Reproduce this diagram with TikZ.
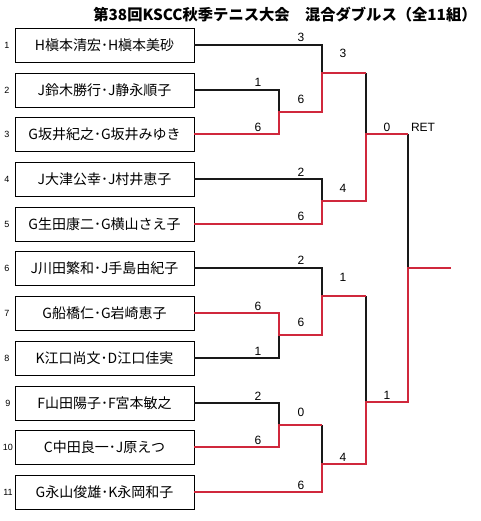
\documentclass[tikz,border=0pt]{standalone}
\usepackage{fontspec}
\setmainfont{Liberation Sans}
\newfontfamily\jp{Noto Sans CJK JP}
\definecolor{winred}{RGB}{208,40,60}

\begin{document}
\begin{tikzpicture}[
  x=1pt, y=-1pt,
  every node/.style={font=\normalsize},
  team/.style={rectangle, draw, line width=0.9pt, minimum width=179pt, minimum height=34pt, inner sep=0pt, font=\jp\fontsize{14}{14}\selectfont},
  num/.style={inner sep=0pt, font=\fontsize{9}{9}\selectfont},
  score/.style={inner sep=0pt, font=\fontsize{12}{12}\selectfont},
  lose/.style={line width=1.4pt, draw=black!90},
  win/.style={line width=1.4pt, draw=winred},
]
  \useasboundingbox (0, 0) rectangle (480, 521);

  % Titre
  \node[font=\jp\bfseries\fontsize{15.3}{16}\selectfont] (title) at (285, 15) {第38回KSCC秋季テニス大会　混合ダブルス（全11組）};

  % Equipes
  \node[team] (team1) at (104.5, 45) {H槇本清宏･H槇本美砂};
  \node[team] (team2) at (104.5, 90) {J鈴木勝行･J静永順子};
  \node[team] (team3) at (104.5, 134) {G坂井紀之･G坂井みゆき};
  \node[team] (team4) at (104.5, 179) {J大津公幸･J村井恵子};
  \node[team] (team5) at (104.5, 224) {G生田康二･G横山さえ子};
  \node[team] (team6) at (104.5, 268) {J川田繁和･J手島由紀子};
  \node[team] (team7) at (104.5, 313) {G船橋仁･G岩崎恵子};
  \node[team] (team8) at (104.5, 358) {K江口尚文･D江口佳実};
  \node[team] (team9) at (104.5, 403) {F山田陽子･F宮本敏之};
  \node[team] (team10) at (104.5, 447) {C中田良一･J原えつ};
  \node[team] (team11) at (104.5, 492) {G永山俊雄･K永岡和子};

  % Numeros
  \node[num] (n1) at (7, 45) {1};
  \node[num] (n2) at (7, 90) {2};
  \node[num] (n3) at (7, 134) {3};
  \node[num] (n4) at (7, 179) {4};
  \node[num] (n5) at (7, 224) {5};
  \node[num] (n6) at (7, 268) {6};
  \node[num] (n7) at (7, 313) {7};
  \node[num] (n8) at (7, 358) {8};
  \node[num] (n9) at (8, 403) {9};
  \node[num] (n10) at (8, 447) {10};
  \node[num] (n11) at (8, 492) {11};

  % Points de jonction
  \coordinate (a23) at (279, 112);
  \coordinate (b13) at (322, 73);
  \coordinate (b45) at (322, 201);
  \coordinate (c15) at (366, 134);
  \coordinate (a78) at (279, 335);
  \coordinate (b68) at (322, 296);
  \coordinate (a910) at (279, 425);
  \coordinate (b911) at (322, 464);
  \coordinate (c611) at (366, 402);
  \coordinate (fin) at (408, 268);
  \coordinate (champ) at (451, 268);

  % Tableau haut
  \draw[lose] (team2.east) -| (a23);
  \draw[lose] (team1.east) -| (b13);
  \draw[lose] (team4.east) -| (b45);
  \draw[lose] (b13 -| c15) -- (c15);
  \draw[lose] (c15 -| fin) -- (fin);
  \draw[win] (team3.east) -| (a23) -| (b13) -- (b13 -| c15);
  \draw[win] (team5.east) -| (b45) -| (c15) -- (c15 -| fin);

  % Tableau bas
  \draw[lose] (team8.east) -| (a78);
  \draw[lose] (team6.east) -| (b68);
  \draw[lose] (team9.east) -| (a910);
  \draw[lose] (a910 -| b911) -- (b911);
  \draw[lose] (b68 -| c611) -- (c611);
  \draw[win] (team7.east) -| (a78) -| (b68) -- (b68 -| c611);
  \draw[win] (team10.east) -| (a910) -- (a910 -| b911);
  \draw[win] (team11.east) -| (b911) -| (c611) -| (fin) -- (champ);

  % Scores
  \node[score] (s1) at (301, 37) {3};
  \node[score] (s2) at (258, 82) {1};
  \node[score] (s3) at (258, 127) {6};
  \node[score] (s4) at (301, 99) {6};
  \node[score] (s5) at (343, 53) {3};
  \node[score] (s6) at (387, 127) {0};
  \node[score] (ret) at (423, 127) {RET};
  \node[score] (s7) at (301, 172) {2};
  \node[score] (s8) at (301, 216) {6};
  \node[score] (s9) at (343, 188) {4};
  \node[score] (s10) at (301, 260) {2};
  \node[score] (s11) at (343, 277) {1};
  \node[score] (s12) at (258, 306) {6};
  \node[score] (s13) at (301, 322) {6};
  \node[score] (s14) at (258, 351) {1};
  \node[score] (s15) at (258, 396) {2};
  \node[score] (s16) at (258, 440) {6};
  \node[score] (s17) at (301, 412) {0};
  \node[score] (s18) at (301, 485) {6};
  \node[score] (s19) at (343, 457) {4};
  \node[score] (s20) at (387, 395) {1};
\end{tikzpicture}
\end{document}
